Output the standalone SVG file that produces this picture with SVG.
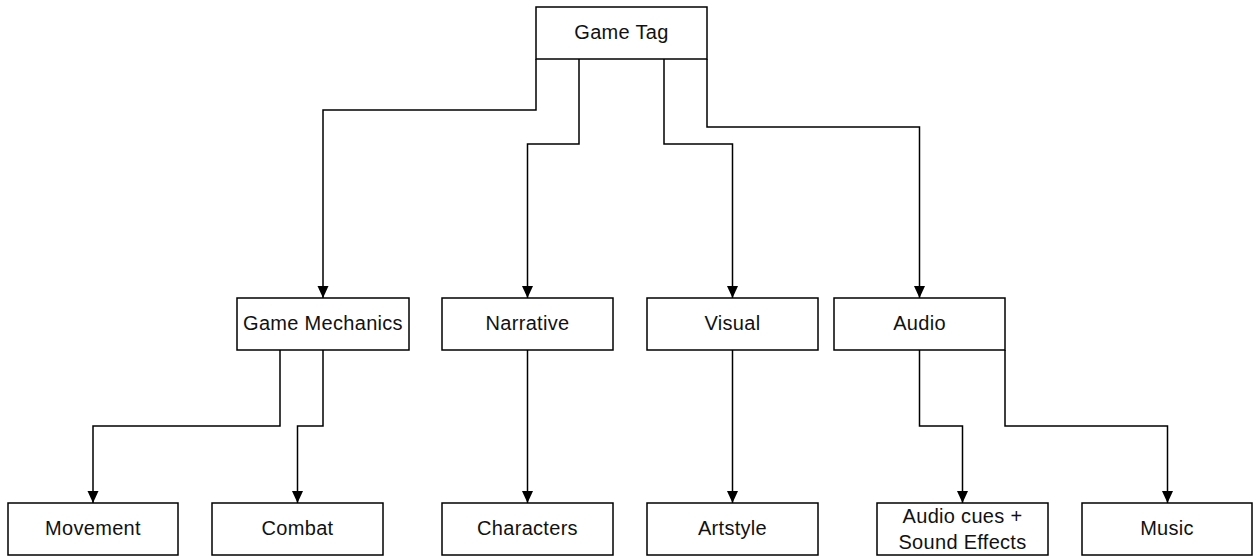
<svg xmlns="http://www.w3.org/2000/svg" width="1257" height="556" viewBox="0 0 1257 556">
<style>
.box{fill:#fff;stroke:#000;stroke-width:1.5}
.lbl{font-family:"Liberation Sans",Arial,sans-serif;font-size:20px;letter-spacing:0.3px;fill:#111;text-anchor:middle}
.edge{fill:none;stroke:#000;stroke-width:1.5}
</style>
<defs>
<marker id="arr" viewBox="0 0 12 12" refX="12" refY="6" markerWidth="12" markerHeight="12" markerUnits="userSpaceOnUse" orient="auto">
<path d="M0,0.5 L12,6 L0,11.5 Z" fill="#000"/>
</marker>
</defs>
<rect width="1257" height="556" fill="#fff"/>
<g id="connectors">
<path class="edge" d="M536,59 V110 H323 V298" marker-end="url(#arr)"/>
<path class="edge" d="M579,59 V144 H527.5 V298" marker-end="url(#arr)"/>
<path class="edge" d="M664,59 V144 H732.5 V298" marker-end="url(#arr)"/>
<path class="edge" d="M707,59 V127 H919.5 V298" marker-end="url(#arr)"/>
<path class="edge" d="M280,350 V426 H93 V503" marker-end="url(#arr)"/>
<path class="edge" d="M323,350 V426 H297.5 V503" marker-end="url(#arr)"/>
<path class="edge" d="M527.5,350 V503" marker-end="url(#arr)"/>
<path class="edge" d="M732.5,350 V503" marker-end="url(#arr)"/>
<path class="edge" d="M919.5,350 V426 H962.5 V503" marker-end="url(#arr)"/>
<path class="edge" d="M1005,350 V426 H1167.5 V503" marker-end="url(#arr)"/>
</g>
<g id="game-tag"><rect class="box" x="536" y="7" width="171" height="52"/><text class="lbl" x="621.5" y="38.5">Game Tag</text></g>
<g id="game-mechanics"><rect class="box" x="237" y="298" width="172" height="52"/><text class="lbl" x="323" y="329.5">Game Mechanics</text></g>
<g id="narrative"><rect class="box" x="442" y="298" width="171" height="52"/><text class="lbl" x="527.5" y="329.5">Narrative</text></g>
<g id="visual"><rect class="box" x="647" y="298" width="171" height="52"/><text class="lbl" x="732.5" y="329.5">Visual</text></g>
<g id="audio"><rect class="box" x="834" y="298" width="171" height="52"/><text class="lbl" x="919.5" y="329.5">Audio</text></g>
<g id="movement"><rect class="box" x="8" y="503" width="170" height="52"/><text class="lbl" x="93" y="534.5">Movement</text></g>
<g id="combat"><rect class="box" x="212" y="503" width="171" height="52"/><text class="lbl" x="297.5" y="534.5">Combat</text></g>
<g id="characters"><rect class="box" x="442" y="503" width="171" height="52"/><text class="lbl" x="527.5" y="534.5">Characters</text></g>
<g id="artstyle"><rect class="box" x="647" y="503" width="171" height="52"/><text class="lbl" x="732.5" y="534.5">Artstyle</text></g>
<g id="audio-cues"><rect class="box" x="877" y="503" width="171" height="52"/><text class="lbl" x="962.5" y="522.5">Audio cues +</text><text class="lbl" x="962.5" y="549">Sound Effects</text></g>
<g id="music"><rect class="box" x="1082" y="503" width="170" height="52"/><text class="lbl" x="1167" y="534.5">Music</text></g>
</svg>
